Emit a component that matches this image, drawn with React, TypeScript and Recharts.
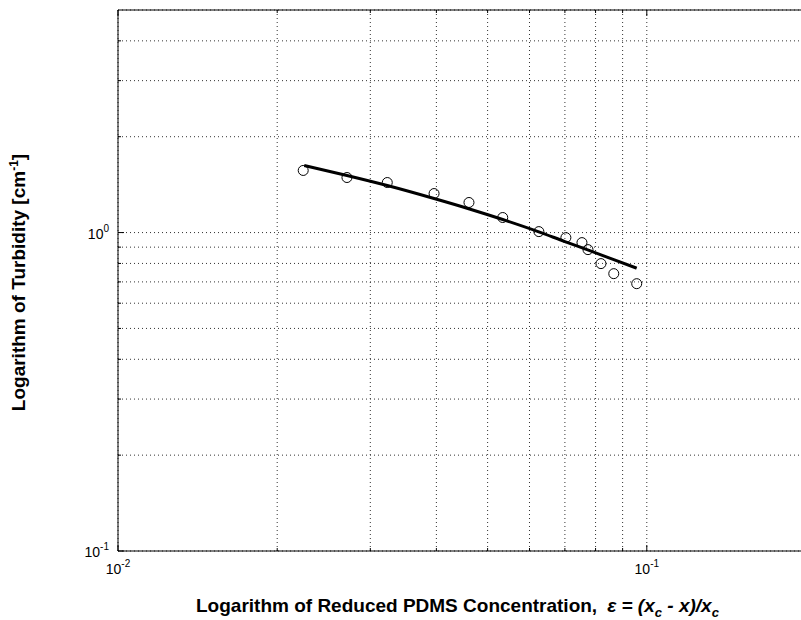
import React from "react";
import { ComposedChart, Line, Scatter, XAxis, YAxis, CartesianGrid, Label } from "recharts";

// measured turbidity vs reduced concentration
const epsilon = [0.0224, 0.0271, 0.0323, 0.0396, 0.0461, 0.0534, 0.0625, 0.0703, 0.0754, 0.0774, 0.0819, 0.0866, 0.0957];
const turbidity = [1.567, 1.489, 1.436, 1.326, 1.243, 1.115, 1.007, 0.964, 0.93, 0.884, 0.799, 0.743, 0.691];

// fitted curve
const fitEpsilon = [0.0225, 0.0271, 0.0323, 0.0396, 0.0462, 0.0534, 0.0623, 0.07, 0.078, 0.0866, 0.0957];
const fitTurbidity = [1.624, 1.511, 1.405, 1.279, 1.186, 1.099, 1.007, 0.937, 0.878, 0.822, 0.773];

const xTicks = [0.01, 0.02, 0.03, 0.04, 0.05, 0.06, 0.07, 0.08, 0.09, 0.1, 0.2];
const yTicks = [0.1, 0.2, 0.3, 0.4, 0.5, 0.6, 0.7, 0.8, 0.9, 1, 2, 3, 4];
const xTickLabels: Record<string, string> = { "0.01": "-2", "0.1": "-1" };
const yTickLabels: Record<string, string> = { "0.1": "-1", "1": "0" };

const points = epsilon.map((x, i) => ({ x, y: turbidity[i] }));
const fit = fitEpsilon.map((x, i) => ({ x, y: fitTurbidity[i] }));

const FONT = "'Liberation Sans', Arial, sans-serif";

const BottomTick = (props: any) => {
  const { x, y, payload } = props;
  const exp = xTickLabels[String(payload.value)];
  const len = exp ? 6 : 3;
  return (
    <g>
      <line x1={x} x2={x} y1={y} y2={y - len} stroke="#000" />
      {exp && (
        <text x={x} y={y + 23} textAnchor="middle" fontFamily={FONT} fontSize={14} fill="#000">
          <tspan>10</tspan>
          <tspan dy={-7} fontSize={10}>{exp}</tspan>
        </text>
      )}
    </g>
  );
};

const TopTick = (props: any) => {
  const { x, y, payload } = props;
  const len = xTickLabels[String(payload.value)] ? 6 : 3;
  return <line x1={x} x2={x} y1={y} y2={y + len} stroke="#000" />;
};

const LeftTick = (props: any) => {
  const { x, y, payload } = props;
  const exp = yTickLabels[String(payload.value)];
  const len = exp ? 6 : 3;
  return (
    <g>
      <line x1={x} x2={x + len} y1={y} y2={y} stroke="#000" />
      {exp && (
        <text x={x - 9} y={y + 6} textAnchor="end" fontFamily={FONT} fontSize={14} fill="#000">
          <tspan>10</tspan>
          <tspan dy={-7} fontSize={10}>{exp}</tspan>
        </text>
      )}
    </g>
  );
};

const XTitle = (props: any) => {
  const { x, y } = props.viewBox;
  return (
    <text x={x + 78} y={y + 61} fontFamily={FONT} fontSize={19} fontWeight="bold" fill="#000">
      <tspan>Logarithm of Reduced PDMS Concentration,</tspan>
      <tspan dx={10} fontStyle="italic">ε = (x</tspan>
      <tspan dy={5} fontSize={13} fontStyle="italic">c</tspan>
      <tspan dy={-5} fontStyle="italic"> - x)/x</tspan>
      <tspan dy={5} fontSize={13} fontStyle="italic">c</tspan>
    </text>
  );
};

const YTitle = (props: any) => {
  const { y, height } = props.viewBox;
  const cy = y + height / 2 + 2;
  return (
    <text
      x={25}
      y={cy}
      transform={`rotate(-90, 25, ${cy})`}
      textAnchor="middle"
      fontFamily={FONT}
      fontSize={19}
      fontWeight="bold"
      fill="#000"
    >
      <tspan>Logarithm of Turbidity [cm</tspan>
      <tspan dy={-7} fontSize={12}>-1</tspan>
      <tspan dy={7}>]</tspan>
    </text>
  );
};

export default function App() {
  return (
    <div style={{ position: "absolute", left: 0, top: 0, width: 801, height: 620, overflow: "hidden", background: "#fff" }}>
      <ComposedChart width={815} height={620} margin={{ top: 0, right: 9, bottom: 0, left: 0 }}>
        <CartesianGrid stroke="#333" strokeDasharray="1 3" />
        <XAxis
          dataKey="x"
          type="number"
          scale="log"
          domain={[0.01, 0.2]}
          allowDataOverflow
          ticks={xTicks}
          interval={0}
          height={69}
          tickSize={0}
          tickMargin={0}
          tick={<BottomTick />}
          axisLine={{ stroke: "#000" }}
          tickLine={false}
        >
          <Label content={<XTitle />} />
        </XAxis>
        <XAxis
          xAxisId="top"
          orientation="top"
          dataKey="x"
          type="number"
          scale="log"
          domain={[0.01, 0.2]}
          allowDataOverflow
          ticks={xTicks}
          interval={0}
          height={10}
          tickSize={0}
          tickMargin={0}
          tick={<TopTick />}
          axisLine={{ stroke: "#000" }}
          tickLine={false}
        />
        <YAxis
          type="number"
          scale="log"
          domain={[0.1, 5]}
          allowDataOverflow
          ticks={yTicks}
          interval={0}
          width={118}
          tickSize={0}
          tickMargin={0}
          tick={<LeftTick />}
          axisLine={{ stroke: "#000" }}
          tickLine={false}
        >
          <Label content={<YTitle />} />
        </YAxis>
        <Line
          data={fit}
          dataKey="y"
          type="monotone"
          stroke="#000"
          strokeWidth={3}
          dot={false}
          isAnimationActive={false}
        />
        <Scatter
          data={points}
          dataKey="y"
          isAnimationActive={false}
          shape={(p: any) => <circle cx={p.cx} cy={p.cy} r={5} fill="none" stroke="#000" strokeWidth={1} />}
        />
      </ComposedChart>
    </div>
  );
}
